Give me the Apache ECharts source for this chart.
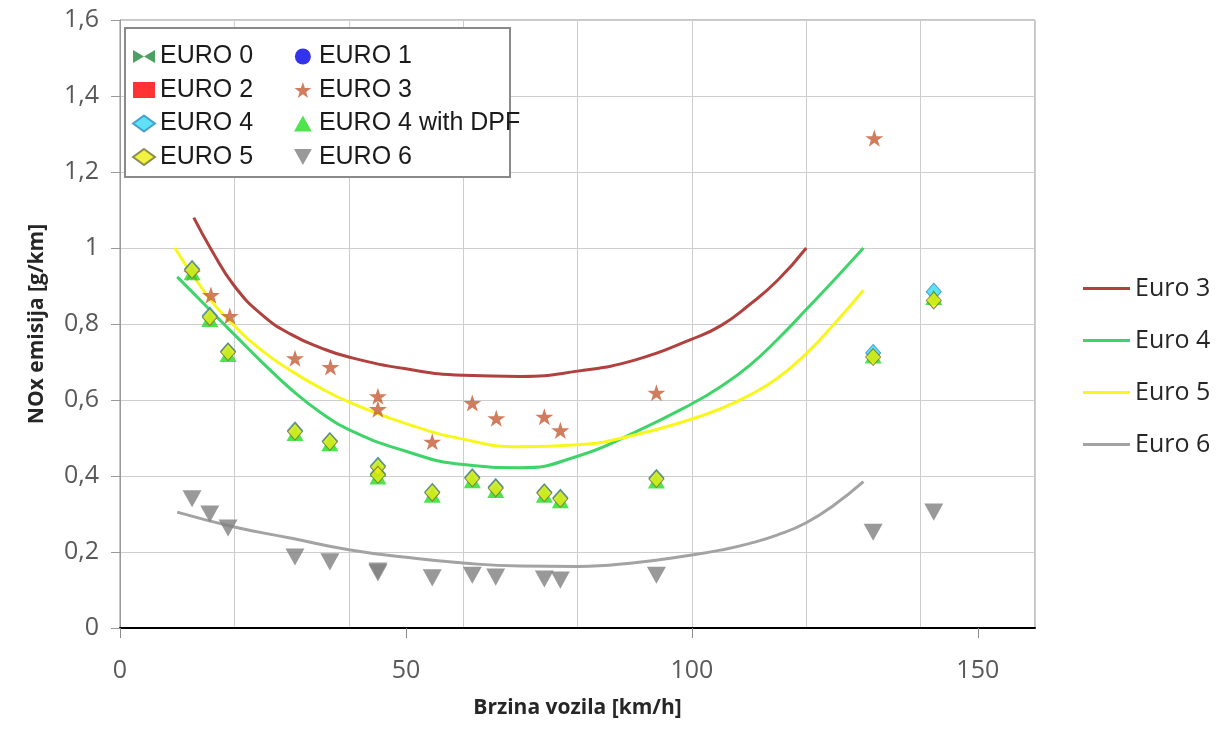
<!DOCTYPE html>
<html>
<head>
<meta charset="utf-8">
<script src="https://cdn.jsdelivr.net/npm/echarts@6/dist/echarts.min.js"></script>
<style>
html,body{margin:0;padding:0;background:#fff;}
#chart{width:1227px;height:733px;}
</style>
</head>
<body>
<div id="chart"></div>
<script>
// ---- data ----
const speeds = [12.6, 15.7, 18.9, 30.6, 36.7, 45.1, 45.1, 54.6, 61.6, 65.7, 74.2, 77.0, 93.8, 131.7, 142.3];
const euro0 = [];
const euro1 = [];
const euro2 = [];
const speedsEuro3 = [12.6, 15.9, 19.2, 30.6, 36.8, 45.1, 45.1, 54.6, 61.6, 65.8, 74.2, 77.0, 93.8, 131.9];
const euro3 = [0.935, 0.876, 0.821, 0.710, 0.687, 0.610, 0.576, 0.490, 0.592, 0.552, 0.556, 0.520, 0.619, 1.289];
const euro4 = [0.945, 0.822, 0.728, 0.520, 0.492, 0.427, 0.406, 0.358, 0.397, 0.371, 0.357, 0.343, 0.395, 0.724, 0.885];
const euro4dpf = [0.935, 0.812, 0.720, 0.512, 0.485, 0.418, 0.398, 0.350, 0.388, 0.362, 0.350, 0.335, 0.387, 0.716, 0.870];
const euro5 = [0.942, 0.818, 0.726, 0.517, 0.490, 0.424, 0.403, 0.356, 0.394, 0.368, 0.355, 0.340, 0.392, 0.713, 0.862];
const euro6 = [0.340, 0.300, 0.263, 0.187, 0.174, 0.150, 0.145, 0.132, 0.139, 0.134, 0.129, 0.126, 0.139, 0.252, 0.305];

// trend curves
const trend3X = [12.9, 16, 20, 25, 30, 35, 40, 50, 60, 70, 80, 90, 100, 105, 110, 115, 120];
const trend3Y = [1.08, 0.995, 0.90, 0.822, 0.772, 0.738, 0.713, 0.682, 0.665, 0.662, 0.676, 0.705, 0.76, 0.795, 0.85, 0.915, 1.0];
const trend4X = [10, 15, 20, 25, 30, 35, 40, 50, 60, 70, 80, 90, 100, 105, 110, 115, 120, 125, 130];
const trend4Y = [0.924, 0.848, 0.772, 0.697, 0.627, 0.568, 0.522, 0.465, 0.43, 0.422, 0.452, 0.515, 0.59, 0.635, 0.69, 0.76, 0.838, 0.918, 1.0];
const trend5X = [9.6, 15, 20, 25, 30, 35, 40, 50, 60, 70, 80, 90, 100, 105, 110, 115, 120, 125, 130];
const trend5Y = [1.0, 0.88, 0.795, 0.728, 0.676, 0.632, 0.595, 0.538, 0.497, 0.477, 0.482, 0.508, 0.55, 0.577, 0.612, 0.658, 0.722, 0.802, 0.889];
const trend6X = [10, 20, 30, 40, 50, 60, 70, 80, 90, 100, 105, 110, 115, 120, 125, 130];
const trend6Y = [0.305, 0.266, 0.236, 0.206, 0.186, 0.171, 0.163, 0.162, 0.172, 0.192, 0.205, 0.222, 0.245, 0.277, 0.325, 0.385];

const xTicks = [0, 50, 100, 150];

function pairs(xs, ys) { return ys.map((y, i) => [xs[i], y]); }

const STAR = 'path://M50,0L61.2,34.5L97.6,34.5L68.2,55.9L79.4,90.5L50,69.1L20.6,90.5L31.8,55.9L2.4,34.5L38.8,34.5Z';
const DOWN_TRI = 'path://M0,0L20,0L10,18Z';
const BOWTIE = 'path://M0,0L10,6L0,12ZM20,0L10,6L20,12Z';
const UP_TRI = 'path://M10,0L20,18L0,18Z';

const chart = echarts.init(document.getElementById('chart'), null, {renderer: 'canvas'});

const scatterBase = {type: 'scatter', xAxisIndex: 0, yAxisIndex: 0, z: 4, symbolKeepAspect: true};
const lineBase = {type: 'line', xAxisIndex: 0, yAxisIndex: 0, z: 3, smooth: 0.5, symbol: 'none', showSymbol: false};

const legendText = {fontFamily: 'Liberation Sans, Arial, sans-serif', fontSize: 25, color: '#1a1a1a', lineHeight: 24};

const option = {
  backgroundColor: '#ffffff',
  animation: false,
  grid: {left: 120, right: 192, top: 20, bottom: 105, show: true, borderColor: '#8c8c8c', borderWidth: 1, backgroundColor: 'transparent'},
  xAxis: [
    {
      type: 'value', min: 0, max: 160, interval: 50, position: 'bottom',
      name: 'Brzina vozila [km/h]', nameLocation: 'middle', nameGap: 70,
      nameTextStyle: {fontFamily: 'Open Sans, sans-serif', fontWeight: 'bold', fontSize: 21, color: '#262626'},
      axisLine: {show: true, onZero: false, lineStyle: {color: '#000000', width: 2}},
      axisTick: {show: true, length: 10, inside: false, customValues: xTicks, lineStyle: {color: '#8c8c8c'}},
      axisLabel: {show: true, margin: 30, customValues: xTicks, fontFamily: 'Open Sans, sans-serif', fontSize: 25, color: '#595959'},
      splitLine: {show: false}
    },
    {
      type: 'value', min: 0, max: 160, interval: 20, position: 'bottom',
      axisLine: {show: false}, axisTick: {show: false}, axisLabel: {show: false},
      splitLine: {show: true, lineStyle: {color: '#cdcdcd', width: 1}}
    }
  ],
  yAxis: [{
    type: 'value', min: 0, max: 1.6, interval: 0.2,
    name: 'NOx emisija [g/km]', nameLocation: 'middle', nameGap: 72, nameRotate: 90,
    nameTextStyle: {fontFamily: 'Open Sans, sans-serif', fontWeight: 'bold', fontSize: 21, color: '#262626'},
    axisLine: {show: true, lineStyle: {color: '#9a9a9a', width: 1}},
    axisTick: {show: true, length: 9, inside: false, lineStyle: {color: '#9a9a9a'}},
    axisLabel: {
      margin: 21, fontFamily: 'Open Sans, sans-serif', fontSize: 25, color: '#595959',
      formatter: v => String(+(+v).toFixed(1)).replace('.', ',')
    },
    splitLine: {show: true, lineStyle: {color: '#cdcdcd', width: 1}}
  }],
  graphic: [{
    type: 'rect', z: 20, silent: true,
    shape: {x: 125, y: 28, width: 385, height: 149},
    style: {fill: '#ffffff', stroke: '#8a8a8a', lineWidth: 2}
  }],
  legend: [
    {
      z: 30, selectedMode: false, orient: 'vertical', left: 132, top: 44,
      itemWidth: 22, itemHeight: 16, itemGap: 8.5, padding: 0,
      data: ['EURO 0', 'EURO 2', 'EURO 4', 'EURO 5'], textStyle: legendText
    },
    {
      z: 30, selectedMode: false, orient: 'vertical', left: 294, top: 44,
      itemWidth: 22, itemHeight: 16, itemGap: 8.5, padding: 0,
      data: ['EURO 1', 'EURO 3', 'EURO 4 with DPF', 'EURO 6'], textStyle: legendText
    },
    {
      z: 30, selectedMode: false, orient: 'vertical', left: 1083, top: 276,
      itemWidth: 47, itemHeight: 3, itemGap: 27, padding: 0, icon: 'rect',
      data: ['Euro 3', 'Euro 4', 'Euro 5', 'Euro 6'],
      textStyle: {fontFamily: 'Open Sans, sans-serif', fontSize: 25, color: '#262626', lineHeight: 24}
    }
  ],
  series: [
    Object.assign({}, lineBase, {name: 'Euro 3', data: pairs(trend3X, trend3Y), lineStyle: {color: '#b0413e', width: 3}, itemStyle: {color: '#b0413e'}}),
    Object.assign({}, lineBase, {name: 'Euro 4', data: pairs(trend4X, trend4Y), lineStyle: {color: '#3ed46a', width: 3}, itemStyle: {color: '#3ed46a'}}),
    Object.assign({}, lineBase, {name: 'Euro 5', data: pairs(trend5X, trend5Y), lineStyle: {color: '#f7f71e', width: 3}, itemStyle: {color: '#f7f71e'}}),
    Object.assign({}, lineBase, {name: 'Euro 6', data: pairs(trend6X, trend6Y), lineStyle: {color: '#a3a3a3', width: 3}, itemStyle: {color: '#a3a3a3'}}),

    Object.assign({}, scatterBase, {name: 'EURO 0', data: euro0, symbol: BOWTIE, symbolSize: [16, 12], itemStyle: {color: '#1f8a3b'}}),
    Object.assign({}, scatterBase, {name: 'EURO 1', data: euro1, symbol: 'circle', symbolSize: 16, itemStyle: {color: '#0000e6'}}),
    Object.assign({}, scatterBase, {name: 'EURO 2', data: euro2, symbol: 'rect', symbolSize: 16, itemStyle: {color: '#ff0000'}}),
    Object.assign({}, scatterBase, {name: 'EURO 3', data: pairs(speedsEuro3, euro3), symbol: STAR, symbolSize: 18, itemStyle: {color: '#c65b35'}}),
    Object.assign({}, scatterBase, {name: 'EURO 4', data: pairs(speeds, euro4), symbol: 'diamond', symbolSize: [15, 17], itemStyle: {color: '#38d8f5', borderColor: '#2a8fbf', borderWidth: 1}}),
    Object.assign({}, scatterBase, {name: 'EURO 4 with DPF', data: pairs(speeds, euro4dpf), symbol: UP_TRI, symbolSize: 17, itemStyle: {color: '#22dd22'}}),
    Object.assign({}, scatterBase, {name: 'EURO 5', data: pairs(speeds, euro5), symbol: 'diamond', symbolSize: [15, 17], itemStyle: {color: '#eeee10', borderColor: '#6f6f3a', borderWidth: 1}}),
    Object.assign({}, scatterBase, {name: 'EURO 6', data: pairs(speeds, euro6), symbol: DOWN_TRI, symbolSize: 19, itemStyle: {color: '#7f7f7f'}})
  ]
};
chart.setOption(option);
</script>
</body>
</html>
